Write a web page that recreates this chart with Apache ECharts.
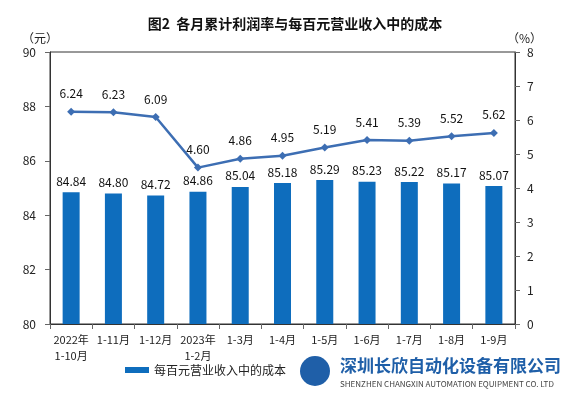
<!DOCTYPE html>
<html>
<head>
<meta charset="utf-8">
<script src="https://cdn.jsdelivr.net/npm/echarts@6/dist/echarts.min.js"></script>
<style>
  html, body { margin: 0; padding: 0; background: #fff; }
  #main { width: 570px; height: 396px; }
</style>
</head>
<body>
<div id="main"></div>
<script>
// 月份
var months = ['2022年\n1-10月', '1-11月', '1-12月', '2023年\n1-2月', '1-3月', '1-4月', '1-5月', '1-6月', '1-7月', '1-8月', '1-9月'];
// 每百元营业收入中的成本（元）
var costPerHundred = [84.84, 84.80, 84.72, 84.86, 85.04, 85.18, 85.29, 85.23, 85.22, 85.17, 85.07];
// 营业收入利润率（%）
var profitRate = [6.24, 6.23, 6.09, 4.60, 4.86, 4.95, 5.19, 5.41, 5.39, 5.52, 5.62];

var FONT = '"Noto Sans CJK SC", "DejaVu Sans", sans-serif';

var myChart = echarts.init(document.getElementById('main'));

var option = {
    backgroundColor: '#fff',
    animation: false,
    textStyle: { fontFamily: FONT },
    title: {
        text: '图2  各月累计利润率与每百元营业收入中的成本',
        left: 290,
        textAlign: 'center',
        top: 12,
        textStyle: { fontSize: 14, fontWeight: 'bold', color: '#111', fontFamily: FONT }
    },
    legend: {
        data: [{ name: '每百元营业收入中的成本', icon: 'rect' }],
        left: 120,
        top: 359,
        itemWidth: 24,
        itemHeight: 6,
        textStyle: { fontSize: 12, color: '#222', fontFamily: FONT }
    },
    grid: { left: 50, right: 55, top: 52, bottom: 72, show: true, borderColor: '#333', borderWidth: 1 },
    xAxis: {
        type: 'category',
        data: months,
        axisLine: { lineStyle: { color: '#333' } },
        axisTick: { show: true, alignWithLabel: false, lineStyle: { color: '#666' } },
        axisLabel: { color: '#222', fontSize: 11, interval: 0, lineHeight: 16, margin: 8 }
    },
    yAxis: [{
        type: 'value',
        name: '（元）',
        nameGap: 8,
        nameTextStyle: { color: '#222', fontSize: 12, align: 'right', padding: [0, -8, 0, 0] },
        min: 80, max: 90, interval: 2,
        axisLine: { show: true, lineStyle: { color: '#333' } },
        axisTick: { show: true, lineStyle: { color: '#666' } },
        splitLine: { show: false },
        axisLabel: { color: '#222', fontSize: 12, margin: 14 }
    }, {
        type: 'value',
        name: '（%）',
        nameGap: 8,
        nameTextStyle: { color: '#222', fontSize: 12, align: 'left', padding: [0, 0, 0, -8] },
        min: 0, max: 8, interval: 1,
        axisLine: { show: true, lineStyle: { color: '#333' } },
        axisTick: { show: true, lineStyle: { color: '#666' } },
        splitLine: { show: false },
        axisLabel: { color: '#222', fontSize: 12, margin: 12 }
    }],
    series: [{
        name: '每百元营业收入中的成本',
        type: 'bar',
        yAxisIndex: 0,
        data: costPerHundred,
        barWidth: 17,
        itemStyle: { color: '#0e6dbd' },
        label: {
            show: true, position: 'top', distance: 5,
            color: '#111', fontSize: 12,
            formatter: function (p) { return p.value.toFixed(2); }
        }
    }, {
        name: '营业收入利润率',
        type: 'line',
        yAxisIndex: 1,
        data: profitRate,
        symbol: 'diamond',
        symbolSize: 8,
        lineStyle: { color: '#3d6eb3', width: 2.5 },
        itemStyle: { color: '#3d6eb3' },
        label: {
            show: true, position: 'top', distance: 8,
            color: '#111', fontSize: 12,
            formatter: function (p) { return p.value.toFixed(2); }
        }
    }],
    graphic: [{
        type: 'circle',
        left: 300, top: 356,
        shape: { r: 15 },
        style: { fill: '#1f5fa8' }
    }, {
        type: 'text',
        left: 340, top: 357,
        style: { text: '深圳长欣自动化设备有限公司', fontSize: 17, fontWeight: 'bold', fill: '#1f5fa8', fontFamily: FONT }
    }, {
        type: 'text',
        left: 340, top: 380,
        style: { text: 'SHENZHEN CHANGXIN AUTOMATION EQUIPMENT CO. LTD', fontSize: 8, fill: '#444', fontFamily: FONT }
    }]
};

myChart.setOption(option);
</script>
</body>
</html>
